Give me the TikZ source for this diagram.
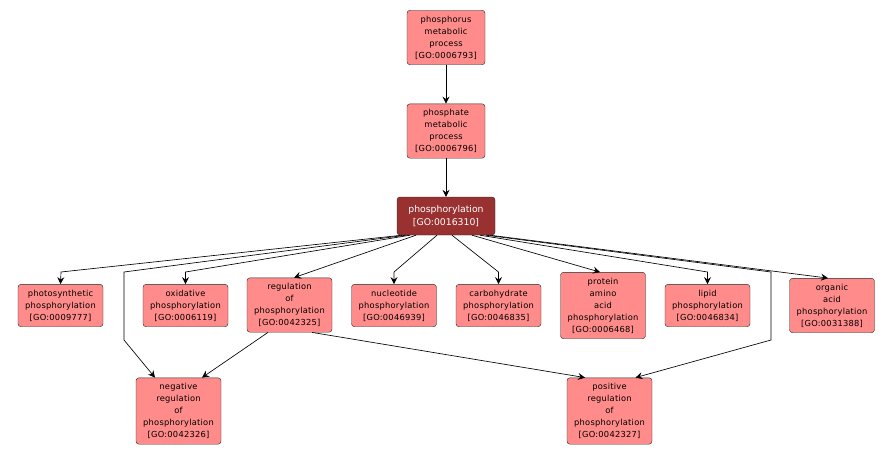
\documentclass[tikz,border=0pt]{standalone}
\usepackage{fontspec}
\setmainfont{DejaVu Sans}[LetterSpace=3]
\newfontfamily\focusfont{DejaVu Sans}
\usetikzlibrary{arrows.meta,positioning}
\definecolor{termfill}{HTML}{FF8B8B}
\definecolor{termdark}{HTML}{993131}
\tikzset{
	term/.style={draw=black!85, fill=termfill, rounded corners=3pt,
		align=center, font=\fontsize{8.3}{12}\selectfont,
		inner xsep=1pt, inner ysep=5.5pt, minimum width=85pt},
	focus/.style={term, fill=termdark, text=white,
		font=\focusfont\fontsize{9.3}{12.5}\selectfont,
		minimum width=98pt, minimum height=38pt},
	isa/.style={-{Stealth[length=7pt,width=7pt,inset=2.5pt]}, line width=0.65pt}
}

\begin{document}
\begin{tikzpicture}[x=1pt,y=-1pt]
	\useasboundingbox (0,0) rectangle (895,455);
	% top of the chain
	\node[term, minimum width=78pt] (phosmeta) at (446,37.5)
		{phosphorus\\metabolic\\process\\{[GO:0006793]}};
	\node[term, minimum width=78pt] (phatemeta) at (446,131)
		{phosphate\\metabolic\\process\\{[GO:0006796]}};
	\node[focus] (phos) at (446,216)
		{phosphorylation\\{[GO:0016310]}};
	% children
	\node[term] (photo) at (60.5,305.5)
		{photosynthetic\\phosphorylation\\{[GO:0009777]}};
	\node[term] (oxid) at (185.5,305.5)
		{oxidative\\phosphorylation\\{[GO:0006119]}};
	\node[term] (reg) at (289.5,305)
		{regulation\\of\\phosphorylation\\{[GO:0042325]}};
	\node[term] (nucl) at (394,305.5)
		{nucleotide\\phosphorylation\\{[GO:0046939]}};
	\node[term] (carb) at (498.5,305.5)
		{carbohydrate\\phosphorylation\\{[GO:0046835]}};
	\node[term] (prot) at (603,305.5)
		{protein\\amino\\acid\\phosphorylation\\{[GO:0006468]}};
	\node[term] (lipid) at (707.5,305.5)
		{lipid\\phosphorylation\\{[GO:0046834]}};
	\node[term] (organic) at (832,305.5)
		{organic\\acid\\phosphorylation\\{[GO:0031388]}};
	\node[term] (negreg) at (178.5,411)
		{negative\\regulation\\of\\phosphorylation\\{[GO:0042326]}};
	\node[term] (posreg) at (609.5,411)
		{positive\\regulation\\of\\phosphorylation\\{[GO:0042327]}};

	\draw[isa] (phosmeta) -- (phatemeta);
	\draw[isa] (phatemeta) -- (phos);
	\draw[isa] ([xshift=-44]phos.south) -- (61,272) -- (photo.north);
	\draw[isa] ([xshift=-40]phos.south) -- (124,272) -- (124,340)
		-- ([xshift=-23.5]negreg.north);
	\draw[isa] ([xshift=-36]phos.south) -- (185.5,272) -- (oxid.north);
	\draw[isa] ([xshift=-30]phos.south) -- ([xshift=4.5]reg.north);
	\draw[isa] ([xshift=-9]phos.south) -- (394,272) -- (nucl.north);
	\draw[isa] ([xshift=6]phos.south) -- (498.5,272) -- (carb.north);
	\draw[isa] ([xshift=26]phos.south) -- ([xshift=-3]prot.north);
	\draw[isa] ([xshift=34]phos.south) -- (707.5,272) -- (lipid.north);
	\draw[isa] ([xshift=40]phos.south) -- (771,272) -- (771,340)
		-- ([xshift=26]posreg.north);
	\draw[isa] ([xshift=44]phos.south) -- ([xshift=-4]organic.north);
	\draw[isa] ([xshift=-21.5]reg.south) -- ([xshift=23.5]negreg.north);
	\draw[isa] ([xshift=22.5]reg.south) -- ([xshift=-24.5]posreg.north);
\end{tikzpicture}
\end{document}
